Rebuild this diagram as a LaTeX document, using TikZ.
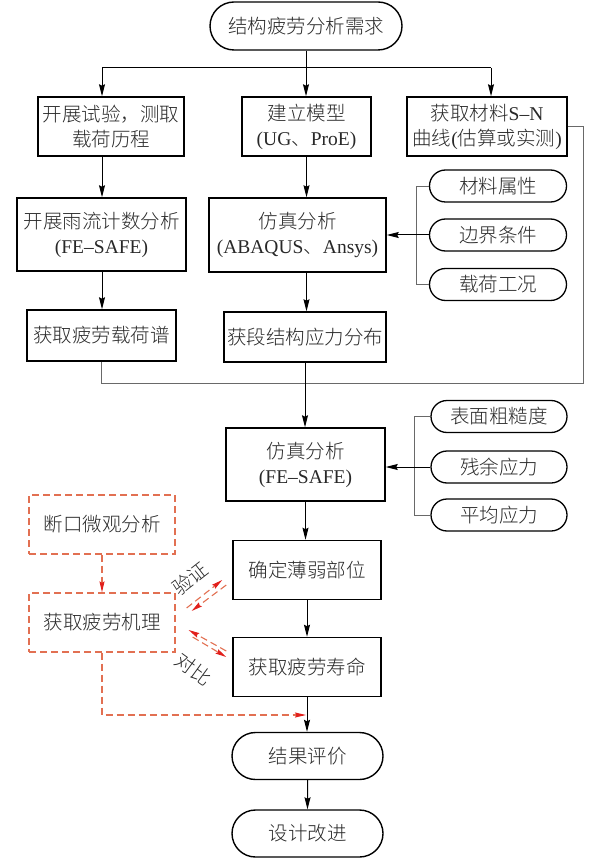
\documentclass[tikz,border=0pt]{standalone}
\usepackage{fontspec}
\setmainfont{Liberation Serif}
\newfontfamily\cjk{Noto Sans CJK SC Light}
\newfontfamily\lat{Liberation Serif}
\usetikzlibrary{shapes.misc, arrows.meta, positioning, calc}
\definecolor{trialred}{RGB}{226,112,82}
\definecolor{tipred}{RGB}{226,32,28}
\definecolor{feedgray}{RGB}{105,105,105}
\definecolor{inkgray}{RGB}{40,40,40}
\tikzset{
    startstop/.style={rounded rectangle, draw=black, line width=1.4pt, minimum width=151pt, minimum height=47pt, inner sep=0pt, align=center},
    factor/.style={rounded rectangle, draw=black, line width=1.3pt, minimum width=137pt, minimum height=32pt, inner sep=0pt},
    process/.style={rectangle, draw=black, line width=1.5pt, minimum width=148pt, minimum height=59pt, inner sep=0pt, align=center},
    trial/.style={rectangle, draw=trialred, line width=1.2pt, dash pattern=on 7pt off 4pt, minimum width=146pt, minimum height=59pt, inner sep=0pt, align=center},
    tag/.style={inner sep=0pt},
    arrow/.style={draw=black, line width=1pt, -{Stealth[length=12pt, width=6pt, inset=1.5pt]}},
    line/.style={draw=black, line width=1pt},
    feed/.style={line width=0.9pt, draw=feedgray},
    redarrow/.style={draw=trialred, line width=1.1pt, dash pattern=on 7pt off 4pt, -{Stealth[length=11pt, width=5pt, inset=1.5pt, color=tipred]}}
}

\begin{document}
\begin{tikzpicture}[x=1pt, y=-1pt, text=inkgray, font=\cjk\fontsize{19.5}{25}\selectfont]
    \useasboundingbox (0,0) rectangle (601,858);
    % main chain
    \node (need) [startstop, minimum width=192pt, minimum height=48pt] at (306,26) {结构疲劳分析需求};
    \node (test) [process, minimum width=146pt] at (111,126.5) {开展试验，测取\\载荷历程};
    \node (model) [process, minimum width=129pt] at (306.5,126.5) {建立模型\\{\lat (UG}、{\lat ProE)}};
    \node (sncurve) [process, minimum width=160pt] at (487,126.5) {获取材料{\lat S–N}\\曲线{\lat (}估算或实测{\lat )}};
    \node (rainflow) [process, minimum width=169pt, minimum height=73pt] at (101.5,234.5) {开展雨流计数分析\\{\lat (FE–SAFE)}};
    \node (fea) [process, minimum width=177pt, minimum height=74pt] at (297.5,235) {仿真分析\\{\lat (ABAQUS}、{\lat Ansys)}};
    \node (prop) [factor] at (498,186) {材料属性};
    \node (bound) [factor] at (498,235) {边界条件};
    \node (load) [factor] at (498,284.5) {载荷工况};
    \node (spectrum) [process, minimum width=149pt, minimum height=51pt] at (101.5,335.5) {获取疲劳载荷谱};
    \node (stress) [process, minimum width=162pt, minimum height=50pt] at (305,337) {获段结构应力分布};
    \node (fesafe) [process, minimum width=159pt, minimum height=73pt] at (305.5,464.5) {仿真分析\\{\lat (FE–SAFE)}};
    \node (rough) [factor, minimum width=136pt] at (499,416.5) {表面粗糙度};
    \node (resid) [factor, minimum width=136pt] at (499,467) {残余应力};
    \node (mean) [factor, minimum width=136pt] at (499,515) {平均应力};
    \node (weak) [process] at (307,570) {确定薄弱部位};
    \node (life) [process] at (307,667) {获取疲劳寿命};
    \node (judge) [startstop] at (307.5,756) {结果评价};
    \node (improve) [startstop] at (307.5,833.5) {设计改进};
    % test branch
    \node (fracto) [trial] at (102,524.5) {断口微观分析};
    \node (mech) [trial] at (102,622.5) {获取疲劳机理};
    \node (verify) [tag, rotate=38] at (190,579) {验证};
    \node (compare) [tag, rotate=-36] at (194,669) {对比};

    \coordinate (splitL) at (102,68);
    \coordinate (splitR) at (491,68);
    \coordinate (feedR) at (583,383);
    \coordinate (barA) at (416,0);
    \coordinate (barB) at (414,0);
    \coordinate (redjoin) at (306,715);

    \draw [line] (need) -- (need |- splitL);
    \draw [line] (splitL) -- (splitR);
    \draw [arrow] (splitL) -- (splitL |- test.north);
    \draw [arrow] (need |- splitL) -- (need |- model.north);
    \draw [arrow] (splitR) -- (splitR |- sncurve.north);
    \draw [arrow] (splitL |- test.south) -- (splitL |- rainflow.north);
    \draw [arrow] (model) -- (model |- fea.north);
    \draw [arrow] (splitL |- rainflow.south) -- (splitL |- spectrum.north);
    \draw [arrow] (model |- fea.south) -- (model |- stress.north);
    \draw [feed] (prop.west) -| (barA |- load) -- (load.west);
    \draw [arrow] (bound.west) -- (bound.west -| fea.east);
    \draw [feed] (sncurve.east) -| (feedR) -- (spectrum.south |- feedR) -- (spectrum.south);
    \draw [arrow] (stress) -- (stress |- fesafe.north);
    \draw [feed] (rough.west) -| (barB |- mean) -- (mean.west);
    \draw [arrow] (resid.west) -- (resid.west -| fesafe.east);
    \draw [arrow] (fesafe) -- (fesafe |- weak.north);
    \draw [arrow] (weak) -- (weak |- life.north);
    \draw [arrow] (life) -- (life |- judge.north);
    \draw [arrow] (judge) -- (judge |- improve.north);
    \draw [redarrow] (fracto) -- (mech);
    \draw [redarrow] (mech.south) |- (redjoin);
    \draw [redarrow] ([shift={(11,-14.5)}]mech.east) -- ([shift={(-10,10)}]weak.west);
    \draw [redarrow] ([shift={(-6,15)}]weak.west) -- ([shift={(16,-11.5)}]mech.east);
    \draw [redarrow] ([shift={(-6,-16)}]life.west) -- ([shift={(13,7.5)}]mech.east);
    \draw [redarrow] ([shift={(17,14.5)}]mech.east) -- ([shift={(-6,-10)}]life.west);
\end{tikzpicture}
\end{document}
